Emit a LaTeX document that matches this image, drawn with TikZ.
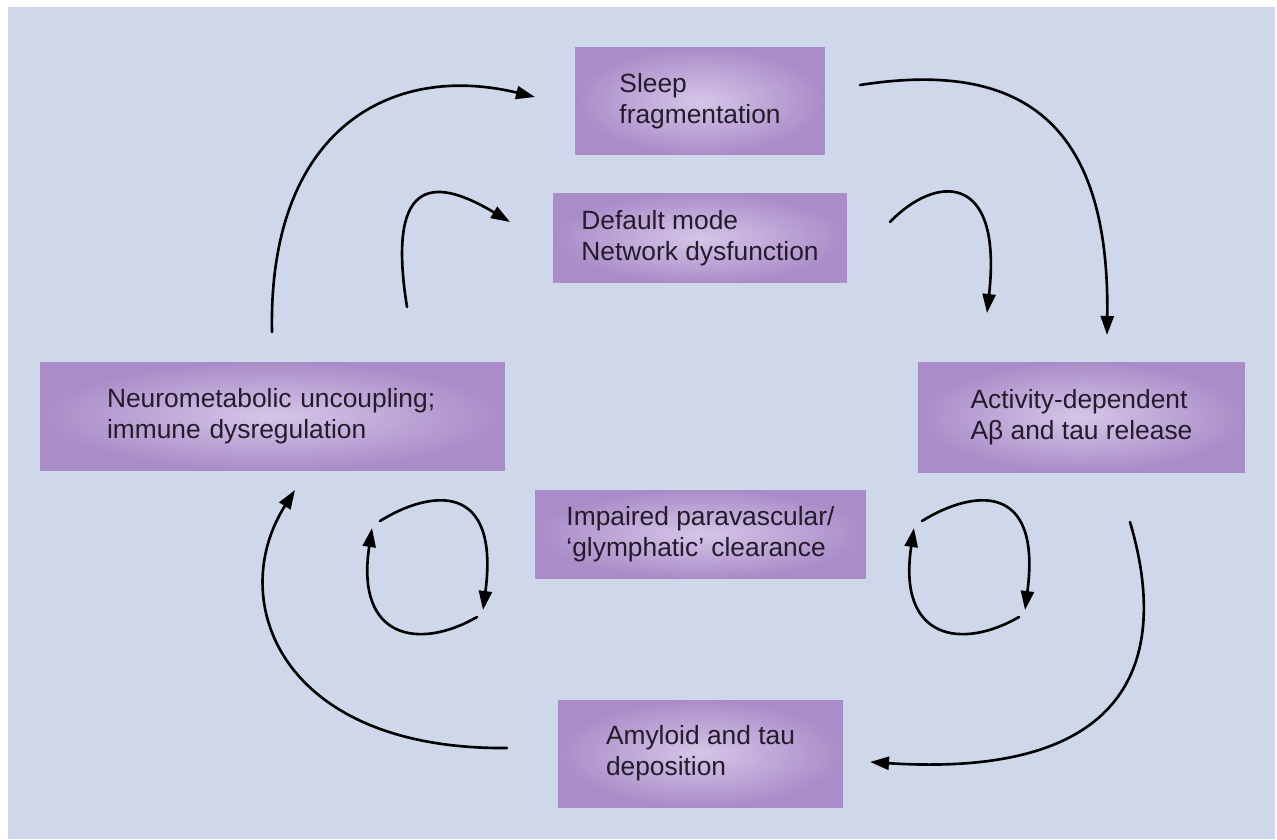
\documentclass[tikz,border=0pt]{standalone}
\usepackage{fontspec}
\setmainfont{Liberation Sans}
\usepackage{tikz}
\usetikzlibrary{arrows.meta}
\definecolor{bgblue}{RGB}{207,216,235}
\definecolor{boxinner}{RGB}{214,197,232}
\definecolor{boxouter}{RGB}{170,140,200}
\definecolor{textdark}{RGB}{35,28,42}

\begin{document}
\begin{tikzpicture}[x=0.02cm, y=-0.02cm,
  box/.style={rectangle, shading=radial, inner color=boxinner, outer color=boxouter, align=left, text=textdark, font=\fontsize{15}{17.5}\selectfont},
  flow/.style={line width=1.5pt, line cap=round, -{Triangle[length=0.38cm,width=0.26cm]}}]
\useasboundingbox (0,0) rectangle (1277,839);
\fill[bgblue] (8,7) rectangle (1275,839);

\node [box, minimum width=5cm, minimum height=2.16cm] (sleep) at (700,101) {Sleep\\fragmentation};
\node [box, minimum width=5.88cm, minimum height=1.8cm] (dmn) at (700,238) {Default mode\\Network dysfunction};
\node [box, minimum width=9.3cm, minimum height=2.16cm, text width=6.62cm, inner xsep=0pt] (neuro) at (272.5,416) {Neurometabolic uncoupling;\\immune dysregulation};
\node [box, minimum width=6.54cm, minimum height=2.2cm] (activity) at (1081.5,417) {Activity-dependent\\Aβ and tau release};
\node [box, minimum width=6.62cm, minimum height=1.76cm] (clearance) at (700.5,534) {Impaired paravascular/\\‘glymphatic’ clearance};
\node [box, minimum width=5.7cm, minimum height=2.14cm] (deposition) at (700.5,753.5) {Amyloid and tau\\deposition};

\coordinate (neuro out) at (272,332);
\coordinate (sleep in) at (535,97);
\coordinate (neuro up) at (407,307);
\coordinate (dmn in) at (510,222);
\coordinate (sleep out) at (860,85);
\coordinate (activity in) at (1107,335);
\coordinate (dmn out) at (890,222);
\coordinate (activity up) at (987,313);
\coordinate (activity out) at (1130,522);
\coordinate (deposition in) at (870,762);
\coordinate (deposition out) at (507,748);
\coordinate (neuro in) at (295,490);

\draw [flow] (neuro out) .. controls (268,130) and (390,62) .. (sleep in);
\draw [flow] (neuro up) .. controls (385,170) and (440,180) .. (dmn in);
\draw [flow] (sleep out) .. controls (1020,60) and (1110,120) .. (activity in);
\draw [flow] (dmn out) .. controls (935,175) and (1003,170) .. (activity up);
\draw [flow] (activity out) .. controls (1165,640) and (1150,780) .. (deposition in);
\draw [flow] (deposition out) .. controls (280,750) and (225,600) .. (neuro in);

\coordinate (left a) at (380,521);
\coordinate (left b) at (483,610);
\coordinate (left c) at (477,617);
\coordinate (left d) at (372,528);
\draw [flow] (left a) .. controls (430,490) and (500,480) .. (left b);
\draw [flow] (left c) .. controls (420,650) and (355,640) .. (left d);

\coordinate (right a) at (922,521);
\coordinate (right b) at (1025,610);
\coordinate (right c) at (1019,617);
\coordinate (right d) at (914,528);
\draw [flow] (right a) .. controls (972,490) and (1042,480) .. (right b);
\draw [flow] (right c) .. controls (962,650) and (897,640) .. (right d);

\end{tikzpicture}
\end{document}
